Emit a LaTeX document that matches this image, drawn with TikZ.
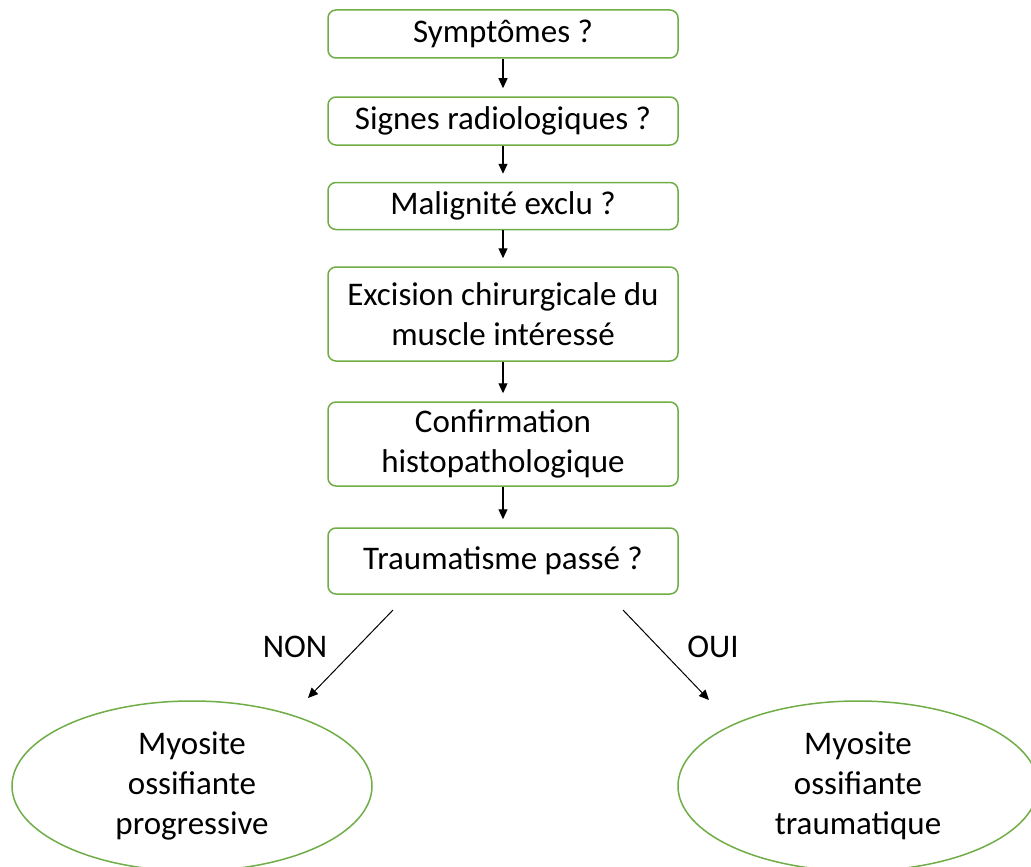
\documentclass[tikz,border=0pt]{standalone}
\usepackage{fontspec}
\setmainfont{Carlito}
\usetikzlibrary{arrows.meta,shapes.geometric}
\definecolor{boxGreen}{RGB}{112,173,71}
\begin{document}
\begin{tikzpicture}
[x=1pt,y=-1pt,%
  darkArrow/.style={-{Triangle[length=10pt,width=9pt]},line width=1.1pt,shorten >=8pt},%
  thinArrow/.style={-{Triangle[length=10pt,width=9pt]},line width=1pt},%
  boxDecorate/.style={shape=rectangle,rounded corners=8pt,draw=boxGreen,line width=1.5pt,
    minimum width=350pt,align=center,font=\fontsize{33}{40}\selectfont},%
  leafDecorate/.style={shape=ellipse,draw=boxGreen,line width=1.5pt,minimum width=360pt,
    minimum height=170pt,align=center,font=\fontsize{33}{40}\selectfont},%
  labelDecorate/.style={font=\fontsize{33}{40}\selectfont}]
\useasboundingbox (0,0) rectangle (1031,867);
%% question boxes
\foreach \nodename/\y/\h/\txt in {sympt/34/48/Symptômes ?,
  signes/121/48/Signes radiologiques ?, malig/206/47/Malignité exclu ?,
  excis/314/94/Excision chirurgicale du\\muscle intéressé,
  confirm/444/84/Confirmation\\histopathologique,
  trauma/561/66/Traumatisme passé ?}
{
  \node (\nodename) at (503,\y) [boxDecorate,minimum height=\h pt] {\txt};
}
%% outcome ellipses
\node (progr) at (192,786) [leafDecorate] {Myosite\\ossifiante\\progressive};
\node (traum) at (858,786) [leafDecorate] {Myosite\\ossifiante\\traumatique};
%% free ends of the two branches
\coordinate (nonStart) at (393,610);
\coordinate (nonEnd) at (308,698);
\coordinate (ouiStart) at (623,610);
\coordinate (ouiEnd) at (709,700);
%% straight edges
\path
\foreach \startnode/\endnode in {sympt/signes, signes/malig, malig/excis,
  excis/confirm, confirm/trauma}
{
  (\startnode) edge[darkArrow] (\endnode)
};
%% branch edges
\draw[thinArrow] (nonStart) -- (nonEnd);
\draw[thinArrow] (ouiStart) -- (ouiEnd);
\node (nonLabel) at (295,647) [labelDecorate] {NON};
\node (ouiLabel) at (713,647) [labelDecorate] {OUI};
\end{tikzpicture}
\end{document}
